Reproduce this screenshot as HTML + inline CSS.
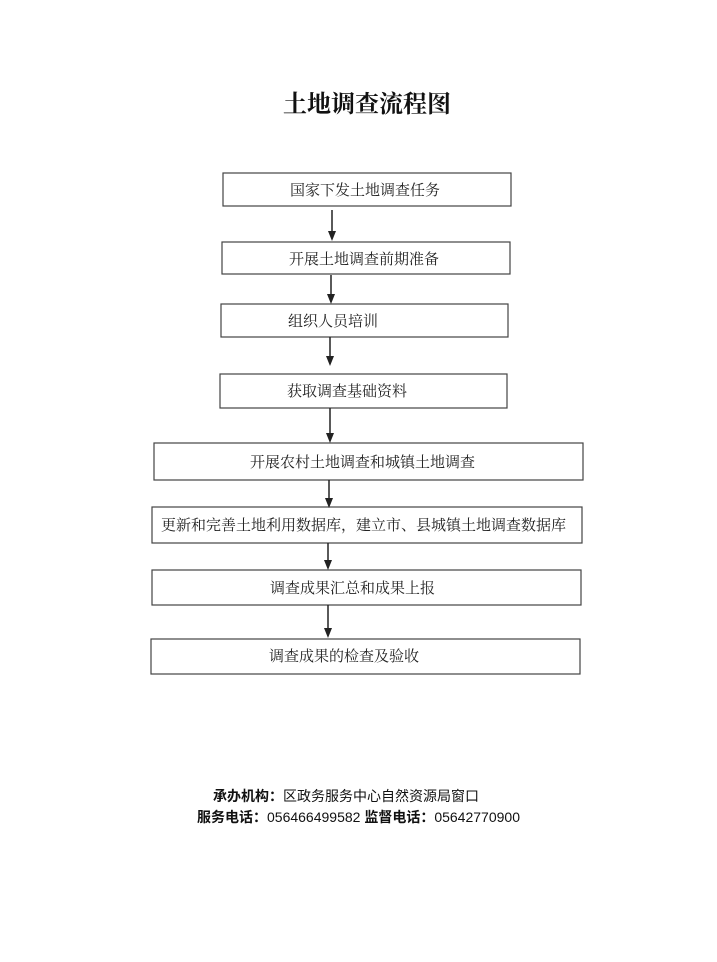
<!DOCTYPE html>
<html><head><meta charset="utf-8"><style>
html,body{margin:0;padding:0;background:#fff;}
svg{display:block;}
.t{font-family:"Liberation Serif","Noto Serif CJK SC",serif;font-size:15px;fill:#222;}
.f{font-family:"Liberation Sans","Noto Sans CJK SC",sans-serif;font-size:14px;fill:#111;}
</style></head><body>
<svg width="717" height="962" viewBox="0 0 717 962" xmlns="http://www.w3.org/2000/svg">
<text x="367" y="112" text-anchor="middle" font-family="Liberation Serif, Noto Serif CJK SC, serif" font-size="24" font-weight="bold" fill="#111">土地调查流程图</text>
<g fill="none" stroke="#444" stroke-width="1.2">
<rect x="223" y="173" width="288" height="33"/>
<rect x="222" y="242" width="288" height="32"/>
<rect x="221" y="304" width="287" height="33"/>
<rect x="220" y="374" width="287" height="34"/>
<rect x="154" y="443" width="429" height="37"/>
<rect x="152" y="507" width="430" height="36"/>
<rect x="152" y="570" width="429" height="35"/>
<rect x="151" y="639" width="429" height="35"/>
</g>
<g stroke="#222" stroke-width="1.5">
<line x1="332" y1="210" x2="332" y2="232"/>
<line x1="331" y1="275" x2="331" y2="295"/>
<line x1="330" y1="337" x2="330" y2="357"/>
<line x1="330" y1="408" x2="330" y2="434"/>
<line x1="329" y1="480" x2="329" y2="499"/>
<line x1="328" y1="543" x2="328" y2="561"/>
<line x1="328" y1="605" x2="328" y2="629"/>
</g>
<g fill="#222">
<polygon points="328,231 336,231 332,241"/>
<polygon points="327,294 335,294 331,304"/>
<polygon points="326,356 334,356 330,366"/>
<polygon points="326,433 334,433 330,443"/>
<polygon points="325,498 333,498 329,508"/>
<polygon points="324,560 332,560 328,570"/>
<polygon points="324,628 332,628 328,638"/>
</g>
<text class="t" x="290" y="195">国家下发土地调查任务</text>
<text class="t" x="289" y="264">开展土地调查前期准备</text>
<text class="t" x="288" y="326">组织人员培训</text>
<text class="t" x="287" y="396">获取调查基础资料</text>
<text class="t" x="250" y="467">开展农村土地调查和城镇土地调查</text>
<text class="t" x="161" y="530">更新和完善土地利用数据库，建立市、县城镇土地调查数据库</text>
<text class="t" x="270" y="593">调查成果汇总和成果上报</text>
<text class="t" x="269" y="661">调查成果的检查及验收</text>
<text class="f" x="213" y="801" font-weight="bold">承办机构：<tspan font-weight="normal">区政务服务中心自然资源局窗口</tspan></text>
<text class="f" x="197" y="822" font-weight="bold">服务电话：<tspan font-weight="normal">056466499582 </tspan>监督电话：<tspan font-weight="normal">05642770900</tspan></text>
</svg>
</body></html>
